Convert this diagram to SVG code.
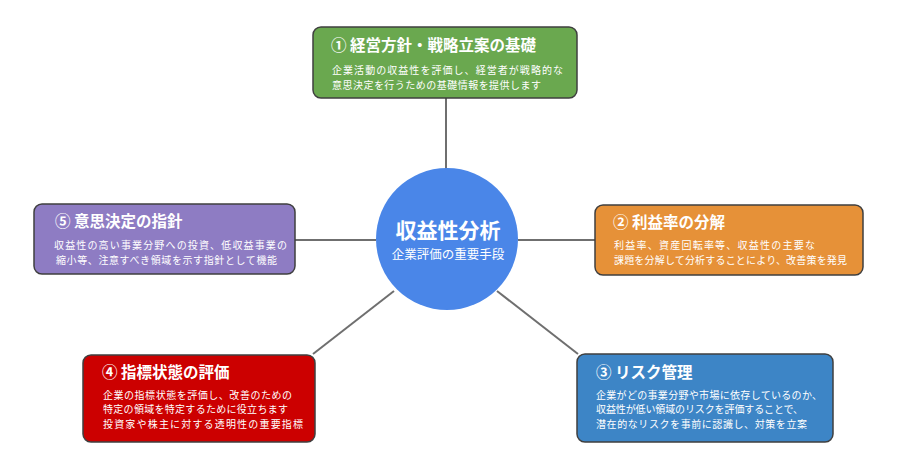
<svg xmlns="http://www.w3.org/2000/svg" width="900" height="470" viewBox="0 0 900 470">
<style>
.box{stroke:#3f3f3f;stroke-width:1.5}
.t{font-family:"Noto Sans CJK JP","Noto Sans",sans-serif;fill:#fff}
.ti{font-size:15.5px;font-weight:700}
.d{font-size:10px}
.conn line{stroke:#6f6f6f;stroke-width:2}
</style>
<rect width="900" height="470" fill="#fff"/>
<g class="conn">
<line x1="446" y1="98" x2="446" y2="169"/>
<line x1="518" y1="240" x2="595" y2="240"/>
<line x1="295" y1="240" x2="376" y2="240"/>
<line x1="497" y1="291" x2="578" y2="354"/>
<line x1="394" y1="291" x2="313" y2="354"/>
</g>
<g id="center">
<circle cx="447" cy="239" r="71" fill="#4a86e8"/>
<text class="t" x="448" y="238" text-anchor="middle" font-size="21" font-weight="700">収益性分析</text>
<text class="t" x="448" y="259" text-anchor="middle" font-size="12.5">企業評価の重要手段</text>
</g>
<g id="node1">
<rect class="box" x="313" y="27" width="264" height="71" rx="8" fill="#6aa84f"/>
<text class="t ti" x="331" y="51">① 経営方針・戦略立案の基礎</text>
<text class="t d" x="332" y="74" textLength="231" lengthAdjust="spacing">企業活動の収益性を評価し、経営者が戦略的な</text>
<text class="t d" x="332" y="88.5" textLength="209" lengthAdjust="spacing">意思決定を行うための基礎情報を提供します</text>
</g>
<g id="node2">
<rect class="box" x="595" y="205" width="268" height="70" rx="8" fill="#e69138"/>
<text class="t ti" x="613" y="228">② 利益率の分解</text>
<text class="t d" x="614" y="249" textLength="201" lengthAdjust="spacing">利益率、資産回転率等、収益性の主要な</text>
<text class="t d" x="614" y="263.5" textLength="233" lengthAdjust="spacing">課題を分解して分析することにより、改善策を発見</text>
</g>
<g id="node3">
<rect class="box" x="577" y="354" width="256" height="88" rx="8" fill="#3d85c6"/>
<text class="t ti" x="596" y="378">③ リスク管理</text>
<text class="t d" x="596" y="398.5" textLength="226" lengthAdjust="spacing">企業がどの事業分野や市場に依存しているのか、</text>
<text class="t d" x="596" y="413" textLength="207" lengthAdjust="spacing">収益性が低い領域のリスクを評価することで、</text>
<text class="t d" x="596" y="427.5" textLength="211" lengthAdjust="spacing">潜在的なリスクを事前に認識し、対策を立案</text>
</g>
<g id="node4">
<rect class="box" x="83" y="355" width="232" height="87" rx="8" fill="#cc0000"/>
<text class="t ti" x="102" y="378">④ 指標状態の評価</text>
<text class="t d" x="103" y="398.5" textLength="189" lengthAdjust="spacing">企業の指標状態を評価し、改善のための</text>
<text class="t d" x="103" y="413" textLength="185" lengthAdjust="spacing">特定の領域を特定するために役立ちます</text>
<text class="t d" x="103" y="427.5" textLength="200" lengthAdjust="spacing">投資家や株主に対する透明性の重要指標</text>
</g>
<g id="node5">
<rect class="box" x="34" y="204" width="261" height="70" rx="8" fill="#8e7cc3"/>
<text class="t ti" x="55" y="227">⑤ 意思決定の指針</text>
<text class="t d" x="54" y="249" textLength="233" lengthAdjust="spacing">収益性の高い事業分野への投資、低収益事業の</text>
<text class="t d" x="56" y="263.5" textLength="221" lengthAdjust="spacing">縮小等、注意すべき領域を示す指針として機能</text>
</g>
</svg>
